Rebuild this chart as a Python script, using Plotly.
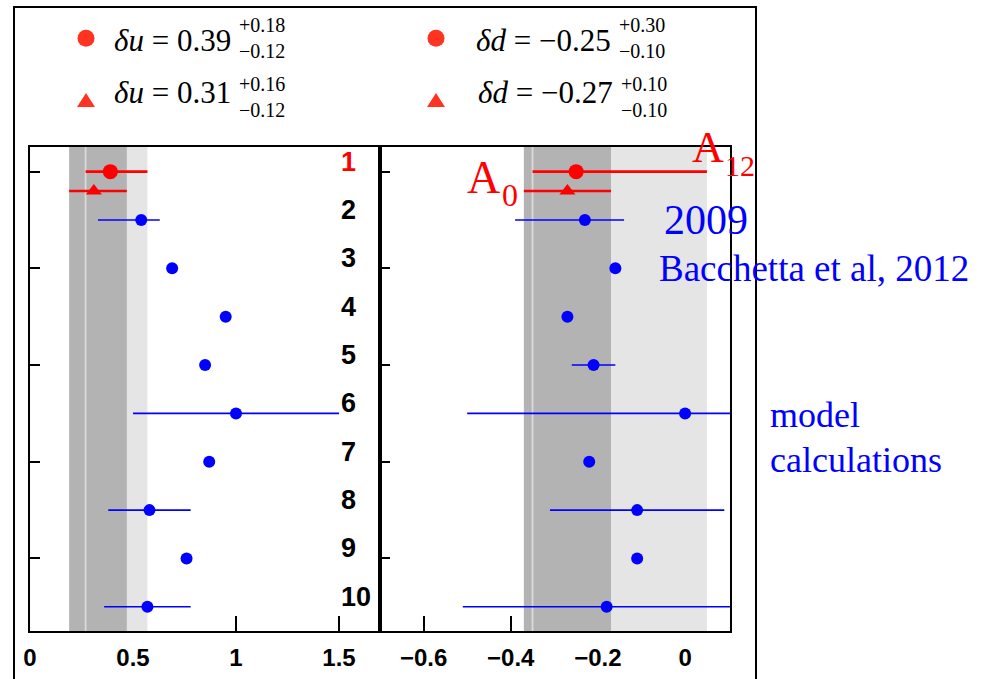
import plotly.graph_objects as go

W, H = 982, 679
MINUS = "\u2212"

# ---------------- data ----------------
# global fits: row 1 (circle = A12 fit) and row 1.4 (triangle = A0 fit)
fit_circle_row = 1.0
fit_triangle_row = 1.4

du_circle, du_circle_plus, du_circle_minus = 0.39, 0.18, 0.12
dd_circle, dd_circle_plus, dd_circle_minus = -0.25, 0.30, 0.10
du_tri, du_tri_plus, du_tri_minus = 0.31, 0.16, 0.12
dd_tri, dd_tri_plus, dd_tri_minus = -0.27, 0.10, 0.10

# 2009 extraction, Bacchetta et al 2012 and model calculations (rows 2-10)
model_rows = [2, 3, 4, 5, 6, 7, 8, 9, 10]
du_model = [0.54, 0.69, 0.95, 0.85, 1.00, 0.87, 0.58, 0.76, 0.57]
du_model_plus = [0.09, 0.0, 0.0, 0.0, 0.50, 0.0, 0.20, 0.0, 0.21]
du_model_minus = [0.21, 0.0, 0.0, 0.0, 0.50, 0.0, 0.20, 0.0, 0.21]
dd_model = [-0.23, -0.16, -0.27, -0.21, 0.00, -0.22, -0.11, -0.11, -0.18]
dd_model_plus = [0.09, 0.0, 0.0, 0.05, 0.50, 0.0, 0.20, 0.0, 0.33]
dd_model_minus = [0.16, 0.0, 0.0, 0.05, 0.50, 0.0, 0.20, 0.0, 0.33]

row_labels = ["1", "2", "3", "4", "5", "6", "7", "8", "9", "10"]
row_positions = [1, 2, 3, 4, 5, 6, 7, 8, 9, 10]

du_ticks = [0, 0.5, 1, 1.5]
du_ticktext = ["0", "0.5", "1", "1.5"]
dd_ticks = [-0.6, -0.4, -0.2, 0]
dd_ticktext = [MINUS + "0.6", MINUS + "0.4", MINUS + "0.2", "0"]

# ---------------- styling ----------------
RED = "#ff0000"
LEG_RED = "#ff3322"
BLUE = "#0000ff"
DARK_BAND = "#b3b3b3"
LIGHT_BAND = "#e5e5e5"
BAND_EDGE = "#dadada"
SERIF = "Liberation Serif"
SANS = "Liberation Sans"
Y_RANGE = [10.5, 0.49]


def px(x):
    return x / W


def py(y):
    return 1 - y / H


fig = go.Figure()


def add_panel(xa, ya, c, cp, cm, t, tp, tm, vals, vp, vm):
    ylo, yhi = Y_RANGE[1], Y_RANGE[0]
    # light band = circle fit interval, dark band = triangle fit interval
    for lo, hi, col in [(c - cm, c + cp, LIGHT_BAND), (t - tm, t + tp, DARK_BAND)]:
        fig.add_trace(go.Scatter(
            x=[lo, hi, hi, lo, lo], y=[ylo, ylo, yhi, yhi, ylo],
            fill="toself", fillcolor=col, mode="lines", line=dict(width=0),
            hoverinfo="skip", showlegend=False, xaxis=xa, yaxis=ya))
    fig.add_trace(go.Scatter(
        x=[c - cm, c - cm], y=[ylo, yhi], mode="lines",
        line=dict(color=BAND_EDGE, width=1.8), hoverinfo="skip",
        showlegend=False, xaxis=xa, yaxis=ya))
    # fits
    fig.add_trace(go.Scatter(
        x=[c], y=[fit_circle_row], mode="markers",
        marker=dict(symbol="circle", size=15, color=RED),
        error_x=dict(type="data", array=[cp], arrayminus=[cm], color=RED,
                     thickness=2.6, width=0),
        showlegend=False, xaxis=xa, yaxis=ya))
    fig.add_trace(go.Scatter(
        x=[t], y=[fit_triangle_row], mode="markers",
        marker=dict(symbol="triangle-up", size=14, color=RED),
        error_x=dict(type="data", array=[tp], arrayminus=[tm], color=RED,
                     thickness=2.6, width=0),
        showlegend=False, xaxis=xa, yaxis=ya))
    # models
    fig.add_trace(go.Scatter(
        x=vals, y=model_rows, mode="markers",
        marker=dict(symbol="circle", size=12, color=BLUE),
        error_x=dict(type="data", array=vp, arrayminus=vm, color=BLUE,
                     thickness=1.6, width=0),
        showlegend=False, xaxis=xa, yaxis=ya))


add_panel("x", "y", du_circle, du_circle_plus, du_circle_minus,
          du_tri, du_tri_plus, du_tri_minus,
          du_model, du_model_plus, du_model_minus)
add_panel("x2", "y2", dd_circle, dd_circle_plus, dd_circle_minus,
          dd_tri, dd_tri_plus, dd_tri_minus,
          dd_model, dd_model_plus, dd_model_minus)

frame = dict(showline=True, linecolor="black", linewidth=1.5, mirror=True,
             showgrid=False, zeroline=False, layer="below traces",
             tickcolor="black", tickwidth=1.5, ticks="inside",
             automargin=False)
xfont = dict(family=SANS, size=24, color="black", weight="bold")
ydom = [py(631), py(147)]

fig.update_layout(
    width=W, height=H,
    margin=dict(l=0, r=0, t=0, b=0, autoexpand=False),
    paper_bgcolor="white", plot_bgcolor="white",
    xaxis=dict(domain=[px(30), px(380)], range=[0, 1.699], anchor="y",
               tickvals=du_ticks, ticktext=du_ticktext, ticklen=15,
               tickfont=xfont, ticklabelstandoff=4, **frame),
    yaxis=dict(domain=ydom, range=Y_RANGE, anchor="x",
               tickvals=[1, 3, 5, 7, 9], ticklen=10, showticklabels=False,
               **frame),
    xaxis2=dict(domain=[px(380), px(730)], range=[-0.70, 0.103], anchor="y2",
                tickvals=dd_ticks, ticktext=dd_ticktext, ticklen=15,
                tickfont=xfont, ticklabelstandoff=4, **frame),
    yaxis2=dict(domain=ydom, range=Y_RANGE, anchor="x2",
                tickvals=[1, 3, 5, 7, 9], ticklen=10, showticklabels=False,
                **frame),
)

annotations = []

# row numbers
for lab, r in zip(row_labels, row_positions):
    annotations.append(dict(
        x=1.5, y=r - 0.21, xref="x", yref="y", text=lab, showarrow=False,
        xanchor="left", yanchor="middle",
        font=dict(family=SANS, size=27, weight="bold",
                  color=RED if r == 1 else "black")))


def label(x, base, s, size, color, anchor="left", family=SERIF):
    return dict(x=px(x), y=py(base - 0.32 * size), xref="paper", yref="paper",
                text=s, showarrow=False, xanchor=anchor, yanchor="middle",
                font=dict(family=family, size=size, color=color))


def num(v):
    s = f"{abs(v):.2f}"
    return (MINUS + s) if v < 0 else s


# legend texts: main value plus stacked upper/lower uncertainties
legend_rows = [
    (236, 50, 37.5, "<i>\u03b4u</i>", du_circle, du_circle_plus, du_circle_minus),
    (236, 102, 97, "<i>\u03b4u</i>", du_tri, du_tri_plus, du_tri_minus),
    (616, 50, 37.5, "<i>\u03b4d</i>", dd_circle, dd_circle_plus, dd_circle_minus),
    (618, 102, 97, "<i>\u03b4d</i>", dd_tri, dd_tri_plus, dd_tri_minus),
]
for xs, bmain, mid_scripts, sym, v, vp, vm in legend_rows:
    annotations.append(label(xs - 3, bmain, f"{sym} = {num(v)}", 31, "black",
                             anchor="right"))
    annotations.append(dict(
        x=px(xs + 1), y=py(mid_scripts), xref="paper", yref="paper",
        text=f"+{num(vp)}<br>{MINUS}{num(vm)}", align="left",
        showarrow=False, xanchor="left", yanchor="middle",
        font=dict(family=SERIF, size=20, color="black")))

# panel captions
annotations += [
    label(465, 192, "A", 46, RED),
    label(500, 205, "0", 32, RED),
    label(690, 162, "A", 44, RED),
    label(723, 175, "12", 30, RED),
    label(662, 233, "2009", 42, BLUE),
    label(657, 280, "Bacchetta et al, 2012", 37, BLUE),
    label(768, 427, "model", 36, BLUE),
    label(768, 472, "calculations", 36, BLUE),
]

shapes = [
    # outer frame
    dict(type="rect", xref="paper", yref="paper", x0=px(14), x1=px(756),
         y0=py(700), y1=py(7), line=dict(color="black", width=2),
         layer="below"),
    # legend symbols
    dict(type="circle", xref="paper", yref="paper", x0=px(77.5), x1=px(94.5),
         y0=py(46.8), y1=py(29.8), fillcolor=LEG_RED, line=dict(width=0)),
    dict(type="circle", xref="paper", yref="paper", x0=px(427.5), x1=px(444.5),
         y0=py(46.8), y1=py(29.8), fillcolor=LEG_RED, line=dict(width=0)),
]
for cx in (86, 436):
    path = (f"M {px(cx - 9)},{py(107)} L {px(cx + 9)},{py(107)} "
            f"L {px(cx)},{py(93)} Z")
    shapes.append(dict(type="path", xref="paper", yref="paper", path=path,
                       fillcolor=LEG_RED, line=dict(width=0)))

fig.update_layout(annotations=annotations, shapes=shapes)

fig.write_html("out.html")
